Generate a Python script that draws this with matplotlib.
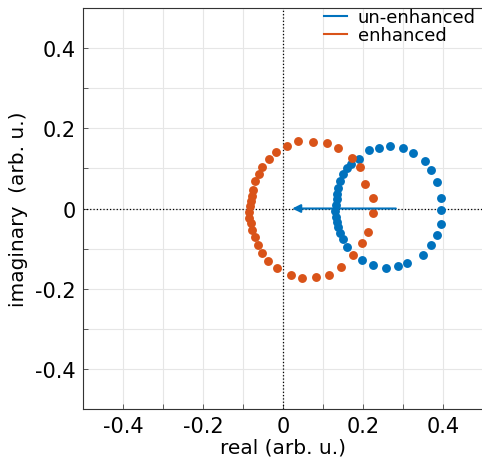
import numpy as np
import matplotlib
matplotlib.use("Agg")
import matplotlib.pyplot as plt

# Complex response samples (real, imaginary) in arbitrary units
unenh_re = [0.216, 0.240, 0.268, 0.301, 0.324, 0.354, 0.371, 0.385, 0.394, 0.394,
            0.395, 0.385, 0.369, 0.349, 0.310, 0.288, 0.258, 0.226, 0.198, 0.161,
            0.151, 0.1425, 0.137, 0.134, 0.132, 0.131, 0.132, 0.134, 0.136, 0.138,
            0.1425, 0.149, 0.159, 0.171, 0.191]
unenh_im = [0.147, 0.150, 0.155, 0.152, 0.138, 0.119, 0.096, 0.066, 0.027, -0.004,
            -0.039, -0.067, -0.092, -0.115, -0.137, -0.144, -0.148, -0.141, -0.129, -0.096,
            -0.077, -0.062, -0.047, -0.033, -0.020, -0.007, 0.008, 0.023, 0.037, 0.052,
            0.069, 0.086, 0.100, 0.110, 0.124]

enh_re = [0.037, 0.074, 0.110, 0.137, 0.1725, 0.1925, 0.205, 0.224, 0.224, 0.213,
          0.198, 0.176, 0.144, 0.114, 0.083, 0.048, 0.019, -0.015, -0.037, -0.052,
          -0.0625, -0.071, -0.077, -0.081, -0.084, -0.086, -0.0825, -0.079, -0.077, -0.076,
          -0.070, -0.061, -0.052, -0.036, -0.0175, 0.011]
enh_im = [0.168, 0.165, 0.163, 0.150, 0.126, 0.103, 0.061, 0.025, -0.012, -0.058,
          -0.087, -0.116, -0.145, -0.165, -0.172, -0.173, -0.165, -0.148, -0.130, -0.110,
          -0.091, -0.072, -0.053, -0.037, -0.023, -0.008, 0.007, 0.018, 0.032, 0.046,
          0.068, 0.086, 0.104, 0.123, 0.142, 0.156]

# Shift of the response centre
arrow_start = (0.282, 0.0)
arrow_end = (0.023, 0.0)

tick_vals = [-0.5, -0.4, -0.3, -0.2, -0.1, 0.0, 0.1, 0.2, 0.3, 0.4, 0.5]
tick_labels = ["", "-0.4", "", "-0.2", "", "0", "", "0.2", "", "0.4", ""]

blue = "#0072BD"
orange = "#D95319"

fig = plt.figure(figsize=(4.82, 4.60), dpi=100)
ax = fig.add_axes([0.1722, 0.1087, 0.83, 0.8717])

ax.plot(unenh_re, unenh_im, "o", color=blue, markersize=6.4, markeredgewidth=0,
        label="un-enhanced")
ax.plot(enh_re, enh_im, "o", color=orange, markersize=6.4, markeredgewidth=0,
        label="enhanced")

ax.axhline(0, color="black", linestyle=":", linewidth=0.9, zorder=1)
ax.axvline(0, color="black", linestyle=":", linewidth=0.9, zorder=1)

ax.annotate("", xy=arrow_end, xytext=arrow_start,
            arrowprops=dict(arrowstyle="-|>", color=blue, lw=1.5,
                            mutation_scale=12, shrinkA=0, shrinkB=0),
            zorder=4)

ax.set_xlim(-0.5, 0.5)
ax.set_ylim(-0.5, 0.5)
ax.set_xticks(tick_vals)
ax.set_yticks(tick_vals)
ax.set_xticklabels(tick_labels, fontsize=15)
ax.set_yticklabels(tick_labels, fontsize=15)
ax.tick_params(direction="in", length=3.6, width=0.6, color="#444444", pad=5)
ax.grid(True, color="#e6e6e6", linewidth=0.8, zorder=0)
ax.set_axisbelow(True)
for s in ax.spines.values():
    s.set_linewidth(0.8)
    s.set_color("#333333")

ax.set_xlabel("real (arb. u.)", fontsize=14.5, labelpad=1)
ax.set_ylabel("imaginary  (arb. u.)", fontsize=14.5, labelpad=5)

leg = ax.legend(loc="upper right", frameon=False, fontsize=13.0,
                handlelength=1.3, handletextpad=0.6, labelspacing=0.02,
                borderaxespad=0.0, bbox_to_anchor=(1.0, 1.018), markerscale=0)
for h, c in zip(leg.legend_handles, [blue, orange]):
    h.set_linestyle("-")
    h.set_linewidth(1.5)
    h.set_marker("")
    h.set_color(c)

fig.savefig("out.png", dpi=100)
